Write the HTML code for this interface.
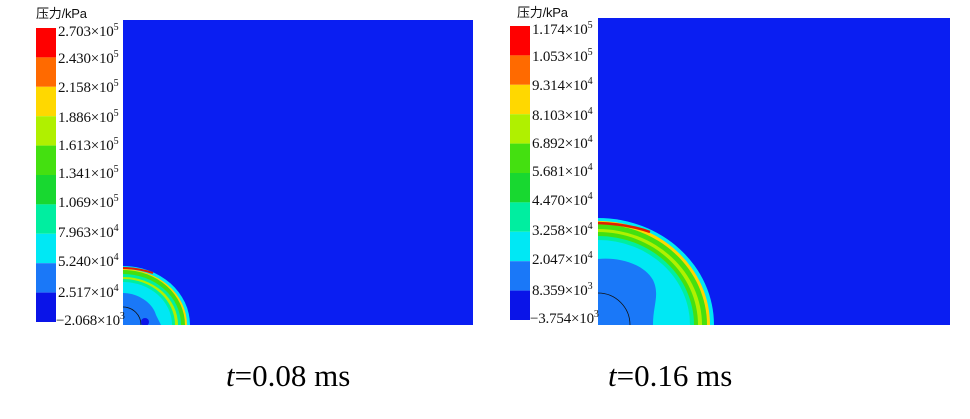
<!DOCTYPE html>
<html><head><meta charset="utf-8"><style>
body{margin:0;background:#fff;width:970px;height:419px;overflow:hidden;position:relative;font-family:"Liberation Serif","Noto Serif CJK SC",serif}
.t{position:absolute;font-size:15px;color:#111;white-space:nowrap;letter-spacing:-0.2px}
.cap{position:absolute;font-size:31px;top:358px}
sup{font-size:10px;vertical-align:6px}
</style></head><body>
<svg width="970" height="419" style="position:absolute;left:0;top:0">
<defs>
<clipPath id="c1"><rect x="123" y="20" width="350" height="305"/></clipPath>
<clipPath id="c2"><rect x="598" y="18" width="352" height="307"/></clipPath>
<g id="bar">
<rect y="0" width="20" height="29.4" fill="#ff0000"/>
<rect y="29.4" width="20" height="29.4" fill="#ff6a00"/>
<rect y="58.8" width="20" height="29.4" fill="#ffd800"/>
<rect y="88.2" width="20" height="29.4" fill="#b0f000"/>
<rect y="117.6" width="20" height="29.4" fill="#44e010"/>
<rect y="147" width="20" height="29.4" fill="#18d830"/>
<rect y="176.4" width="20" height="29.4" fill="#00eea0"/>
<rect y="205.8" width="20" height="29.4" fill="#00e8f4"/>
<rect y="235.2" width="20" height="29.4" fill="#1a78f8"/>
<rect y="264.6" width="20" height="29.4" fill="#0a14e8"/>
</g>
</defs>
<use href="#bar" x="36" y="28"/>
<use href="#bar" x="510" y="26"/>
<rect x="123" y="20" width="350" height="305" fill="#0a1ef2"/>
<g clip-path="url(#c1)"><g transform="translate(123,325)">
<ellipse rx="67" ry="59" fill="#00e8f4"/>
<ellipse rx="64" ry="56" fill="#ffd800"/>
<ellipse rx="62" ry="55" fill="#44e010"/>
<ellipse rx="58" ry="51" fill="#00eea0"/>
<ellipse rx="55" ry="48" fill="#b0f000"/>
<ellipse rx="52" ry="46" fill="#00eea0"/>
<ellipse rx="49" ry="43" fill="#00e8f4"/>
<path d="M0,-32 C15,-32 30,-22 33,-10 L38,0 L0,0Z" fill="#1a78f8"/>
<circle r="18" fill="none" stroke="#111" stroke-width="0.8"/>
<circle cx="22" cy="-3" r="4" fill="#0a14e8"/>
<path d="M0,-57 Q15,-57 30,-52" stroke="#e02000" stroke-width="2" fill="none"/>
</g></g>
<rect x="598" y="18" width="352" height="307" fill="#0a1ef2"/>
<g clip-path="url(#c2)"><g transform="translate(598,325)">
<ellipse rx="116" ry="107" fill="#00e8f4"/>
<ellipse rx="112" ry="104" fill="#ffd800"/>
<ellipse rx="109" ry="101" fill="#44e010"/>
<ellipse rx="104" ry="96" fill="#b0f000"/>
<ellipse rx="100" ry="93" fill="#44e010"/>
<ellipse rx="96" ry="89" fill="#00eea0"/>
<ellipse rx="92" ry="85" fill="#00e8f4"/>
<path d="M0,-66 C20,-68 45,-62 55,-45 C62,-30 55,-20 55,0 L0,0Z" fill="#1a78f8"/>
<circle r="32" fill="none" stroke="#111" stroke-width="0.8"/>
<path d="M0,-102 Q30,-101 52,-93" stroke="#e02000" stroke-width="2.5" fill="none"/>
</g></g>
</svg>
<div class="t" style="left:36px;top:3px;font-family:'Liberation Sans','Noto Sans CJK SC',sans-serif;font-size:13px">压力/kPa</div>
<div class="t" style="left:58px;top:22px">2.703×10<sup>5</sup></div>
<div class="t" style="left:58px;top:49px">2.430×10<sup>5</sup></div>
<div class="t" style="left:58px;top:78px">2.158×10<sup>5</sup></div>
<div class="t" style="left:58px;top:108px">1.886×10<sup>5</sup></div>
<div class="t" style="left:58px;top:136px">1.613×10<sup>5</sup></div>
<div class="t" style="left:58px;top:164px">1.341×10<sup>5</sup></div>
<div class="t" style="left:58px;top:193px">1.069×10<sup>5</sup></div>
<div class="t" style="left:58px;top:223px">7.963×10<sup>4</sup></div>
<div class="t" style="left:58px;top:252px">5.240×10<sup>4</sup></div>
<div class="t" style="left:58px;top:283px">2.517×10<sup>4</sup></div>
<div class="t" style="left:56px;top:311px">−2.068×10<sup>3</sup></div>
<div class="t" style="left:517px;top:2px;font-family:'Liberation Sans','Noto Sans CJK SC',sans-serif;font-size:13px">压力/kPa</div>
<div class="t" style="left:532px;top:20px">1.174×10<sup>5</sup></div>
<div class="t" style="left:532px;top:47px">1.053×10<sup>5</sup></div>
<div class="t" style="left:532px;top:76px">9.314×10<sup>4</sup></div>
<div class="t" style="left:532px;top:106px">8.103×10<sup>4</sup></div>
<div class="t" style="left:532px;top:134px">6.892×10<sup>4</sup></div>
<div class="t" style="left:532px;top:162px">5.681×10<sup>4</sup></div>
<div class="t" style="left:532px;top:191px">4.470×10<sup>4</sup></div>
<div class="t" style="left:532px;top:221px">3.258×10<sup>4</sup></div>
<div class="t" style="left:532px;top:250px">2.047×10<sup>4</sup></div>
<div class="t" style="left:532px;top:281px">8.359×10<sup>3</sup></div>
<div class="t" style="left:530px;top:309px">−3.754×10<sup>3</sup></div>
<div class="cap" style="left:226px"><i>t</i>=0.08 ms</div>
<div class="cap" style="left:608px"><i>t</i>=0.16 ms</div>
</body></html>
